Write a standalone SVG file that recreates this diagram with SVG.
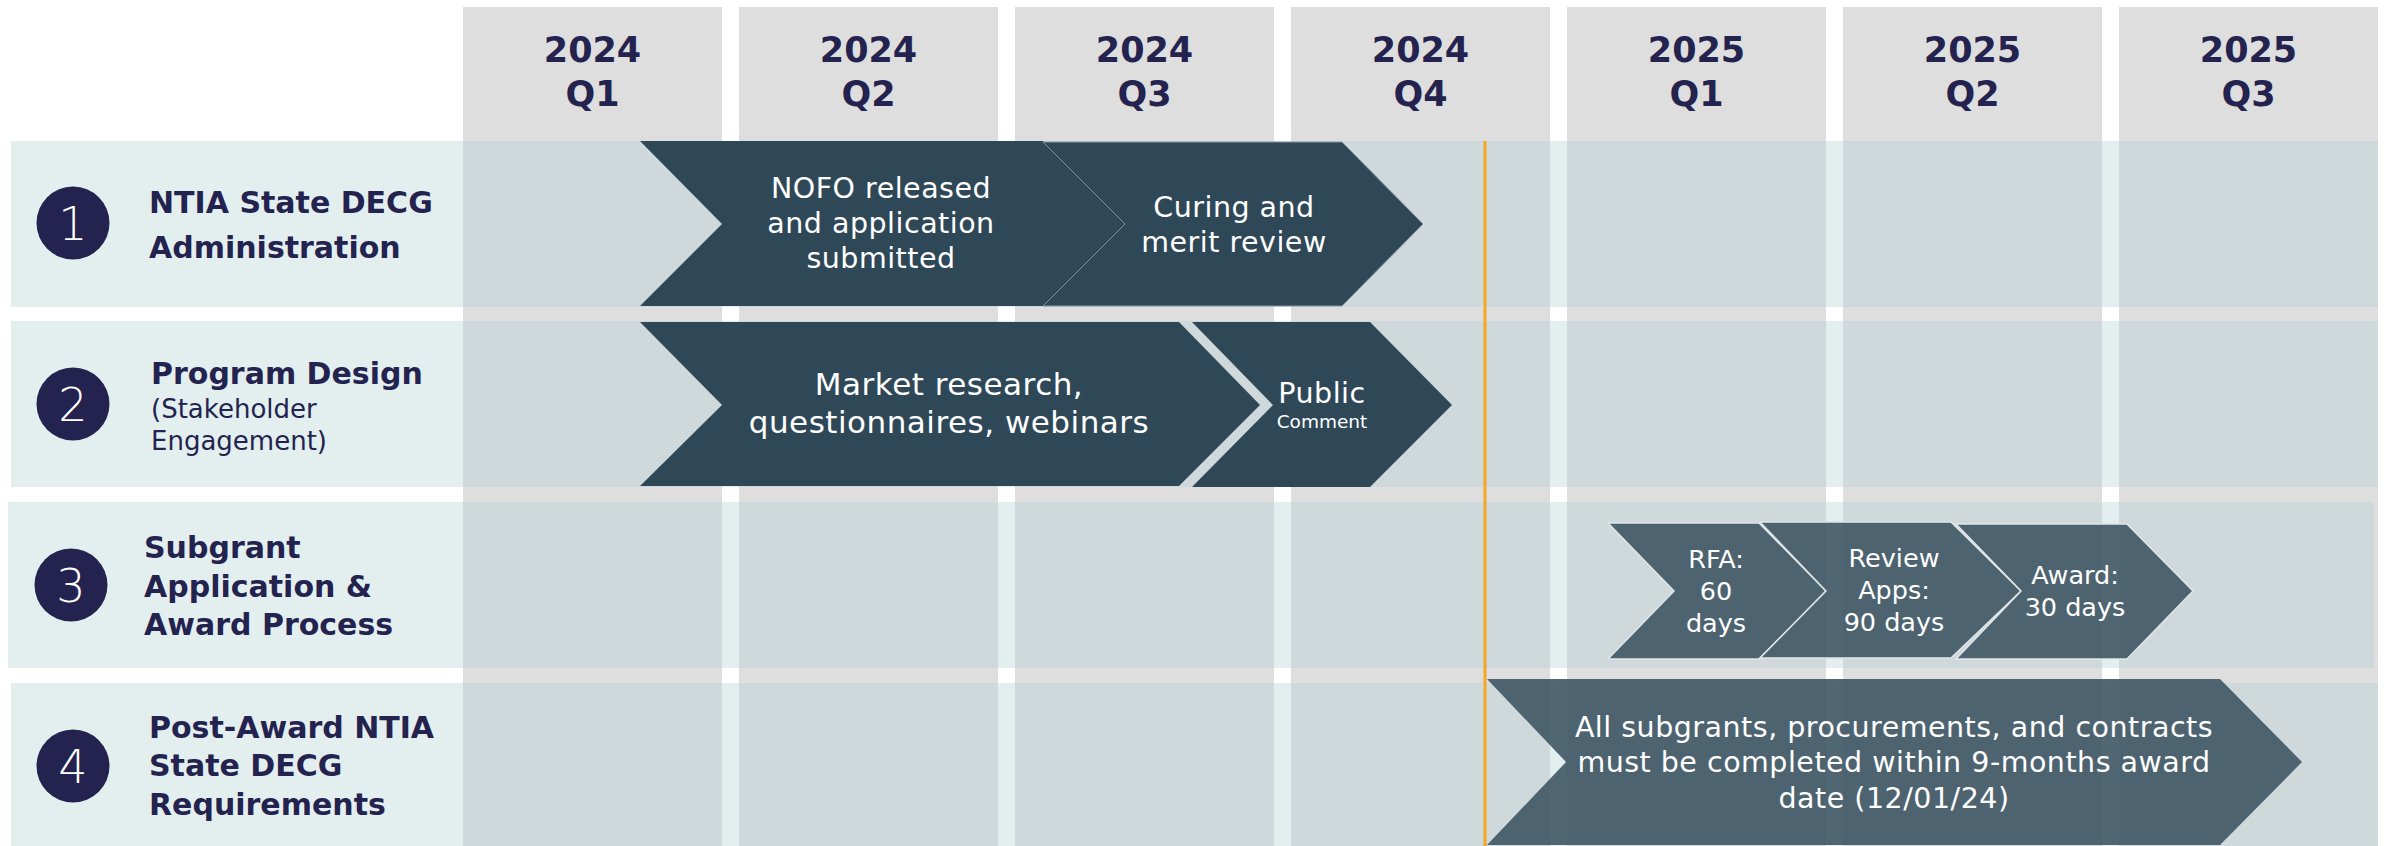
<svg xmlns="http://www.w3.org/2000/svg" width="2387" height="846" viewBox="0 0 2387 846">
<style>
.hdr{fill:#dedede}
.yr{font-family:"DejaVu Sans","Liberation Sans",sans-serif;font-weight:bold;font-size:35px;fill:#24234f;text-anchor:middle}
.band{fill:#e3efef}
.lbl{font-family:"DejaVu Sans","Liberation Sans",sans-serif;font-weight:bold;font-size:30px;fill:#24234f}
.sub{font-family:"DejaVu Sans","Liberation Sans",sans-serif;font-size:26px;fill:#24234f}
.num{font-family:"DejaVu Sans","Liberation Sans",sans-serif;font-weight:200;font-size:46px;fill:#ffffff;text-anchor:middle}
.dot{fill:#24234f}
.dark{fill:#2f4858}
.mid{fill:#3f5664;fill-opacity:0.9}
.ct{font-family:"DejaVu Sans","Liberation Sans",sans-serif;font-size:28.5px;fill:#ffffff;text-anchor:middle;letter-spacing:0.5px}
.st{font-family:"DejaVu Sans","Liberation Sans",sans-serif;font-size:25.5px;fill:#ffffff;text-anchor:middle}
</style>
<defs>
<pattern id="cols" patternUnits="userSpaceOnUse" x="463" y="0" width="276" height="846">
<rect x="0" y="0" width="259" height="846" fill="#cfd8da"/>
<rect x="259" y="0" width="17" height="846" fill="#e3efef"/>
</pattern>
</defs>
<rect x="0" y="0" width="2387" height="846" fill="#ffffff"/>
<g id="columns">
<rect class="hdr" x="463" y="7" width="259" height="839"/>
<rect class="hdr" x="739" y="7" width="259" height="839"/>
<rect class="hdr" x="1015" y="7" width="259" height="839"/>
<rect class="hdr" x="1291" y="7" width="259" height="839"/>
<rect class="hdr" x="1567" y="7" width="259" height="839"/>
<rect class="hdr" x="1843" y="7" width="259" height="839"/>
<rect class="hdr" x="2119" y="7" width="259" height="839"/>
</g>
<g id="headers">
<g id="h-2024q1"><text class="yr" x="592.5" y="62">2024</text><text class="yr" x="592.5" y="106">Q1</text></g>
<g id="h-2024q2"><text class="yr" x="868.5" y="62">2024</text><text class="yr" x="868.5" y="106">Q2</text></g>
<g id="h-2024q3"><text class="yr" x="1144.5" y="62">2024</text><text class="yr" x="1144.5" y="106">Q3</text></g>
<g id="h-2024q4"><text class="yr" x="1420.5" y="62">2024</text><text class="yr" x="1420.5" y="106">Q4</text></g>
<g id="h-2025q1"><text class="yr" x="1696.5" y="62">2025</text><text class="yr" x="1696.5" y="106">Q1</text></g>
<g id="h-2025q2"><text class="yr" x="1972.5" y="62">2025</text><text class="yr" x="1972.5" y="106">Q2</text></g>
<g id="h-2025q3"><text class="yr" x="2248.5" y="62">2025</text><text class="yr" x="2248.5" y="106">Q3</text></g>
</g>
<g id="bands">
<rect class="band" x="11" y="141" width="452" height="166"/>
<rect fill="url(#cols)" x="463" y="141" width="1915" height="166"/>
<rect class="band" x="11" y="321" width="452" height="166"/>
<rect fill="url(#cols)" x="463" y="321" width="1915" height="166"/>
<rect class="band" x="8" y="502" width="455" height="166"/>
<rect fill="url(#cols)" x="463" y="502" width="1911" height="166"/>
<rect class="band" x="11" y="683" width="452" height="163"/>
<rect fill="url(#cols)" x="463" y="683" width="1915" height="163"/>
</g>
<g id="row1-label">
<circle class="dot" cx="73" cy="223" r="36.5"/>
<text class="num" x="73" y="240">1</text>
<text class="lbl" x="149" y="213">NTIA State DECG</text>
<text class="lbl" x="149" y="258">Administration</text>
</g>
<g id="row2-label">
<circle class="dot" cx="73" cy="404" r="36.5"/>
<text class="num" x="73" y="421">2</text>
<text class="lbl" x="151" y="384">Program Design</text>
<text class="sub" x="151" y="418">(Stakeholder</text>
<text class="sub" x="151" y="450">Engagement)</text>
</g>
<g id="row3-label">
<circle class="dot" cx="71" cy="585" r="36.5"/>
<text class="num" x="71" y="602">3</text>
<text class="lbl" x="144" y="558">Subgrant</text>
<text class="lbl" x="144" y="597">Application &amp;</text>
<text class="lbl" x="144" y="635">Award Process</text>
</g>
<g id="row4-label">
<circle class="dot" cx="73" cy="766" r="36.5"/>
<text class="num" x="73" y="783">4</text>
<text class="lbl" x="149" y="738">Post-Award NTIA</text>
<text class="lbl" x="149" y="776">State DECG</text>
<text class="lbl" x="149" y="815">Requirements</text>
</g>
<g id="nofo">
<polygon class="dark" points="640,141 1043,141 1125,224 1043,306 640,306 722,224"/>
<text class="ct" x="881" y="198">NOFO released</text>
<text class="ct" x="881" y="233">and application</text>
<text class="ct" x="881" y="268">submitted</text>
</g>
<g id="curing">
<polygon class="dark" points="1043,142 1342,142 1423,224 1342,306 1043,306 1125,224" stroke="#8596a0" stroke-width="1"/>
<text class="ct" x="1234" y="217">Curing and</text>
<text class="ct" x="1234" y="252">merit review</text>
</g>
<g id="market">
<polygon class="dark" points="640,322 1179,322 1260,405 1179,486 640,486 722,405"/>
<text class="ct" x="949" y="395" style="font-size:31px">Market research,</text>
<text class="ct" x="949" y="433" style="font-size:31px">questionnaires, webinars</text>
</g>
<g id="public">
<polygon class="dark" points="1192,322 1370,322 1452,405 1370,487 1192,487 1273,405"/>
<text class="ct" x="1322" y="403">Public</text>
<text class="ct" x="1322" y="428" style="font-size:18.5px;letter-spacing:0">Comment</text>
</g>
<g id="rfa">
<polygon class="mid" points="1608,523 1759,523 1826,591 1759,659 1608,659 1674,591" stroke="#dfe6e8" stroke-width="1.5"/>
<text class="st" x="1716" y="568">RFA:</text>
<text class="st" x="1716" y="600">60</text>
<text class="st" x="1716" y="632">days</text>
</g>
<g id="review">
<polygon class="mid" points="1760,522 1951,522 2021,591 1951,658 1760,658 1826,591" stroke="#dfe6e8" stroke-width="1.5"/>
<text class="st" x="1894" y="567">Review</text>
<text class="st" x="1894" y="599">Apps:</text>
<text class="st" x="1894" y="631">90 days</text>
</g>
<g id="award">
<polygon class="mid" points="1956,524 2127,524 2193,591 2127,659 1956,659 2021,591" stroke="#dfe6e8" stroke-width="1.5"/>
<text class="st" x="2075" y="584">Award:</text>
<text class="st" x="2075" y="616">30 days</text>
</g>
<g id="post-award">
<polygon class="mid" points="1487,679 2220,679 2302,762 2220,845 1487,845 1566,762"/>
<text class="ct" x="1894" y="737">All subgrants, procurements, and contracts</text>
<text class="ct" x="1894" y="772">must be completed within 9-months award</text>
<text class="ct" x="1894" y="808">date (12/01/24)</text>
</g>
<g id="connectors">
<line id="award-date-line" x1="1485" y1="141" x2="1485" y2="846" stroke="#f5a623" stroke-width="3"/>
</g>
</svg>
